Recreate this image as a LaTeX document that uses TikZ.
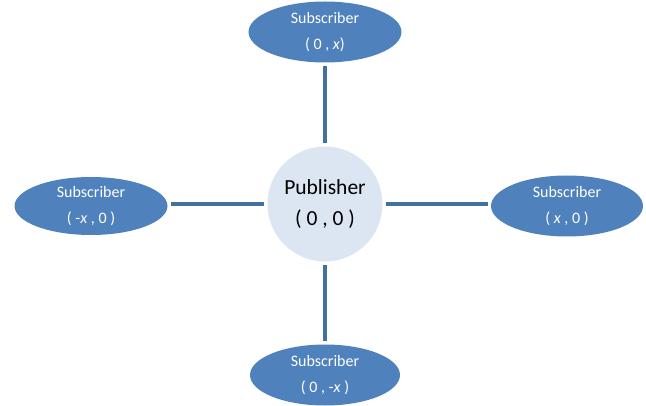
\documentclass[tikz,border=0pt]{standalone}
\usepackage{fontspec}
\setmainfont{Carlito}
\usetikzlibrary{shapes.geometric}
\definecolor{subblue}{HTML}{4F81BD}
\definecolor{linkblue}{HTML}{41719C}
\definecolor{pubfill}{HTML}{DCE6F2}
\begin{document}
\begin{tikzpicture}[x=1pt,y=-1pt,
  sub/.style={ellipse,fill=subblue,draw=none,minimum width=153pt,minimum height=61pt,inner sep=0pt,
    text=white,font=\fontsize{16}{26}\selectfont,align=center},
  pub/.style={circle,fill=pubfill,draw=none,minimum size=115pt,inner sep=0pt,
    text=black,font=\fontsize{21.5}{31}\selectfont,align=center},
  link/.style={draw=linkblue,line width=3.5pt,shorten <=3pt,shorten >=3pt}]
\useasboundingbox (0,0) rectangle (646,406);
\node[pub] (p) at (325,204) {Publisher\\( 0 , 0 )};
\node[sub] (t) at (325,32) {Subscriber\\( 0 , \textit{x})};
\node[sub,minimum height=58pt] (l) at (91,206) {Subscriber\\( -\textit{x} , 0 )};
\node[sub,minimum width=152pt] (r) at (567,206) {Subscriber\\( \textit{x} , 0 )};
\node[sub,minimum width=150pt] (b) at (325,375) {Subscriber\\( 0 , -\textit{x} )};
\draw[link] (p) -- (t);
\draw[link] (p) -- (b);
\draw[link] (p.west) -- (l.east |- p.west);
\draw[link] (p.east) -- (r.west |- p.east);
\end{tikzpicture}
\end{document}
